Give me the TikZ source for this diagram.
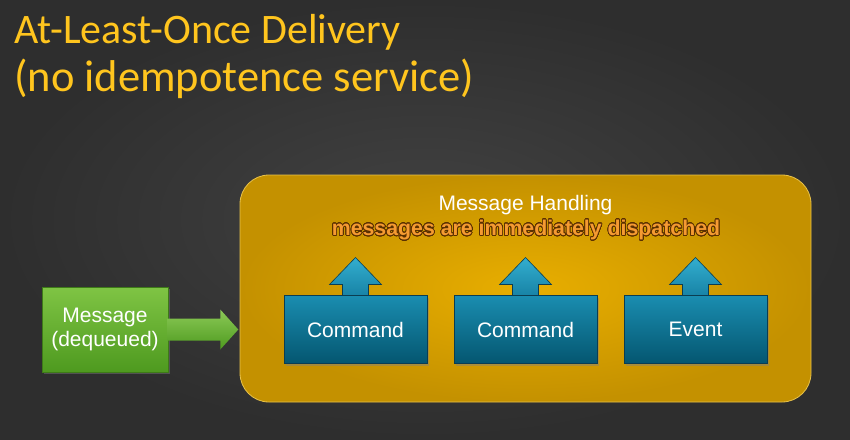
\documentclass[tikz,border=0pt]{standalone}
\usepackage{fontspec}
\setmainfont{Liberation Sans}
\newfontfamily\titlefont{Carlito}
\usepackage{contour}
\contourlength{0.7pt}
\contournumber{32}
\usetikzlibrary{shadows}

\definecolor{bginner}{HTML}{424242}
\definecolor{bgouter}{HTML}{2E2E2E}
\definecolor{titlecol}{HTML}{FFC51E}
\definecolor{goldin}{HTML}{E8AE00}
\definecolor{goldout}{HTML}{C49100}
\definecolor{goldedge}{HTML}{E8C24A}
\definecolor{bluetop}{HTML}{1A8DB0}
\definecolor{bluebot}{HTML}{045670}
\definecolor{blueedge}{HTML}{0B3D52}
\definecolor{arrtop}{HTML}{33AECF}
\definecolor{arrbot}{HTML}{1782A5}
\definecolor{greentop}{HTML}{7FC444}
\definecolor{greenbot}{HTML}{4E9A1F}
\definecolor{greenedge}{HTML}{3E7A18}
\definecolor{notecol}{HTML}{F59A32}
\definecolor{noteedge}{HTML}{5A3000}

\tikzset{
  container/.style={draw=goldedge, line width=0.8pt, rounded corners=29pt,
    shading=radial, inner color=goldin, outer color=goldout,
    minimum width=571pt, minimum height=227pt, inner sep=0pt},
  handler/.style={draw=blueedge, line width=0.8pt, top color=bluetop, bottom color=bluebot,
    minimum width=143pt, minimum height=68pt, inner sep=0pt,
    text=white, font=\fontsize{21}{24}\selectfont,
    drop shadow={opacity=0.45, shadow xshift=1.5pt, shadow yshift=-2pt}},
  msgbox/.style={draw=greenedge, line width=0.6pt, top color=greentop, bottom color=greenbot,
    minimum width=126pt, minimum height=85pt, inner sep=0pt, align=center,
    text=white, font=\fontsize{21}{24}\selectfont,
    drop shadow={opacity=0.45, shadow xshift=1.5pt, shadow yshift=-2pt}},
  dispatchfill/.style={draw=blueedge, line width=0.6pt, top color=arrtop, bottom color=arrbot},
  feedfill/.style={draw=none, top color=greentop!90!white, bottom color=greenbot},
  titletext/.style={anchor=base west, inner sep=0pt, text=titlecol},
  uparrow/.pic={
    \path[dispatchfill] (-13,1) -- (-13,-11) -- (-26,-11) -- (0,-38)
      -- (26,-11) -- (13,-11) -- (13,1) -- cycle;
  },
  feedarrow/.pic={
    \path[feedfill] (-1,-11) -- (52,-11) -- (52,-20) -- (70,0)
      -- (52,20) -- (52,11) -- (-1,11) -- cycle;
  }
}

\begin{document}
\begin{tikzpicture}[x=1pt, y=-1pt]
  % backdrop
  \useasboundingbox (0,0) rectangle (850,439);
  \fill[shading=radial, inner color=bginner, outer color=bgouter] (0,0) rectangle (850,439);

  % title
  \node[titletext, font=\titlefont\fontsize{42}{45}\selectfont] (t1) at (14,43) {At-Least-Once Delivery};
  \node[titletext, font=\titlefont\fontsize{44.5}{47}\selectfont] (t2) at (14,91) {(no idempotence service)};

  % handling area
  \node[container] (mh) at (525.5,288.5) {};
  \node[anchor=base, inner sep=0pt, text=white, font=\fontsize{21}{24}\selectfont]
    (mhtitle) at (525.5,210.5) {Message Handling};
  \node[anchor=base, inner sep=0pt, text=notecol, font=\bfseries\fontsize{21.3}{24}\selectfont]
    (mhnote) at (526,235.5) {\contour{noteedge}{messages are immediately dispatched}};

  % dispatch arrows, then the handlers on top of their bases
  \coordinate (c1top) at (355.5,295.5);
  \coordinate (c2top) at (525.5,295.5);
  \coordinate (e1top) at (695.5,295.5);
  \pic at (c1top) {uparrow};
  \pic at (c2top) {uparrow};
  \pic at (e1top) {uparrow};
  \node[handler] (cmd1) at (355.5,329.5) {Command};
  \node[handler] (cmd2) at (525.5,329.5) {Command};
  \node[handler] (evt)  at (695.5,329.5) {Event};

  % incoming message
  \node[msgbox] (msg) at (105,329.5) {Message\\(dequeued)};
  \pic at (msg.east) {feedarrow};
\end{tikzpicture}
\end{document}
